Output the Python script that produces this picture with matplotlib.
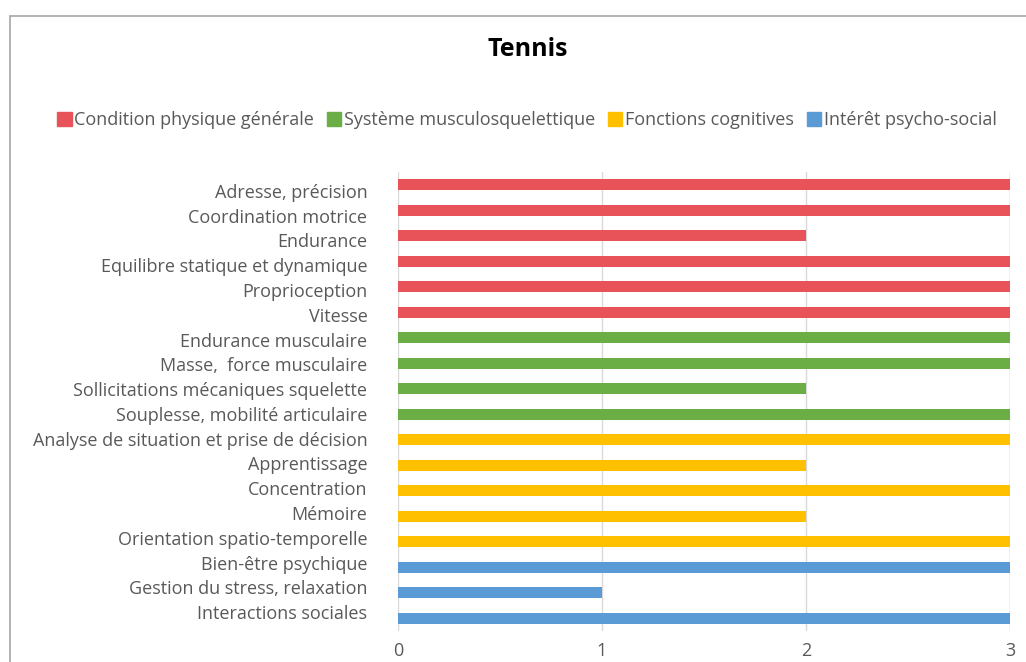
import matplotlib.pyplot as plt
import matplotlib.transforms as mtransforms
from matplotlib.patches import Rectangle, Patch

plt.rcParams['font.family'] = ['Open Sans', 'DejaVu Sans']

# criteria, top to bottom
labels = ["Adresse, précision", "Coordination motrice", "Endurance",
          "Equilibre statique et dynamique", "Proprioception", "Vitesse",
          "Endurance musculaire", "Masse,  force musculaire",
          "Sollicitations mécaniques squelette", "Souplesse, mobilité articulaire",
          "Analyse de situation et prise de décision", "Apprentissage",
          "Concentration", "Mémoire", "Orientation spatio-temporelle",
          "Bien-être psychique", "Gestion du stress, relaxation",
          "Interactions sociales"]
scores = [3, 3, 2, 3, 3, 3, 3, 3, 2, 3, 3, 2, 3, 2, 3, 3, 1, 3]
group = [0, 0, 0, 0, 0, 0, 1, 1, 1, 1, 2, 2, 2, 2, 2, 3, 3, 3]

groups = ["Condition physique générale", "Système musculosquelettique",
          "Fonctions cognitives", "Intérêt psycho-social"]
colors = ["#E8535A", "#6AAE45", "#FFC000", "#5B9BD5"]

fig = plt.figure(figsize=(10.26, 6.62), dpi=100)
fig.patches.append(Rectangle((10 / 1026, -0.1), 1.2, 1 - 16 / 662 + 0.1,
                             transform=fig.transFigure, fill=False,
                             edgecolor="#A6A6A6", linewidth=1.2))

ax = fig.add_axes([398 / 1026, 1 - 631 / 662, 612 / 1026, 459 / 662])
n = len(labels)
ypos = [n - 1 - i for i in range(n)]
ax.barh(ypos, scores, height=0.42, color=[colors[g] for g in group], zorder=3)

ax.set_xlim(0, 3)
ax.set_ylim(-0.5, n - 0.5)
ax.set_xticks([0, 1, 2, 3])
ax.set_yticks(ypos)
ax.set_yticklabels(labels)
ax.tick_params(axis='y', length=0, pad=22, labelsize=13, labelcolor="#595959")
ax.tick_params(axis='x', length=0, pad=8, labelsize=13, labelcolor="#595959")
# category labels are packed a bit tighter than the bars
for i, t in enumerate(ax.get_yticklabels()):
    dy = (-6 + 12 * i / (n - 1)) / 100
    t.set_transform(t.get_transform() + mtransforms.ScaledTranslation(0, dy, fig.dpi_scale_trans))
ax.grid(axis='x', color="#D9D9D9", linewidth=1, zorder=0)
for s in ax.spines.values():
    s.set_visible(False)
ax.axvline(3, color="#F4C7C7", linewidth=1, zorder=1)

fig.text(528 / 1026, 1 - 50 / 662, "Tennis", ha='center', va='center',
         fontsize=18, fontweight='bold', color="black")

handles = [Patch(facecolor=c, edgecolor=c) for c in colors]
fig.legend(handles, groups, loc='center', bbox_to_anchor=(527 / 1026, 1 - 120 / 662),
           ncol=4, frameon=False, fontsize=13, labelcolor="#595959",
           handlelength=0.8, handleheight=0.8, handletextpad=0.15, columnspacing=0.7)

fig.savefig("out.png", dpi=100)
